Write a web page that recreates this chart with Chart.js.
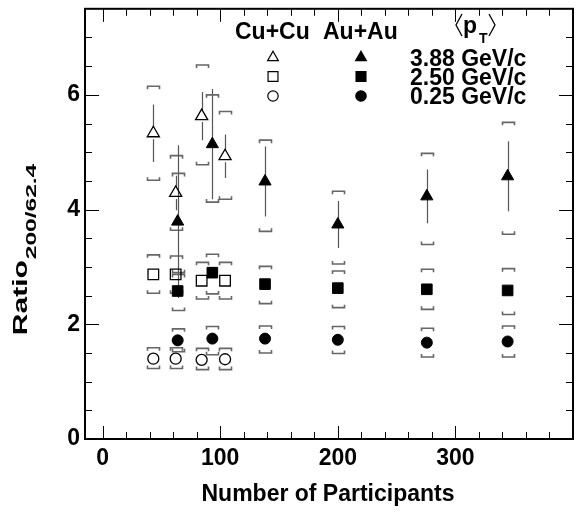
<!DOCTYPE html>
<html>
<head>
<meta charset="utf-8">
<script src="https://cdn.jsdelivr.net/npm/chart.js@4.4.1/dist/chart.umd.min.js"></script>
<style>
  html, body { margin: 0; padding: 0; background: #fff; }
  #wrap { width: 584px; height: 512px; }
</style>
</head>
<body>
<div id="wrap"><canvas id="chart" width="584" height="512"></canvas></div>
<script>
// Cu+Cu points (open markers)
const cuNpart = [43.1, 62.1, 84.2, 104.1];
const cuHigh = [5.33, 4.29, 5.63, 4.93];
const cuHighStat = [0.50, 0.30, 0.42, 0.38];
const cuHighSysTop = [6.15, 4.94, 6.52, 5.71];
const cuHighSysBot = [4.51, 3.64, 4.78, 4.18];
const cuMid = [2.87, 2.87, 2.76, 2.76];
const cuMidSysTop = [3.21, 3.19, 3.08, 3.08];
const cuMidSysBot = [2.54, 2.54, 2.44, 2.44];
const cuLow = [1.40, 1.40, 1.38, 1.39];
const cuLowSysTop = [1.59, 1.59, 1.58, 1.58];
const cuLowSysBot = [1.23, 1.23, 1.21, 1.21];

// Au+Au points (filled markers)
const auNpart = [63.8, 93.3, 138.1, 200.0, 275.7, 344.4];
const auHigh = [3.79, 5.14, 4.49, 3.74, 4.23, 4.58];
const auHighStat = [1.33, 0.96, 0.61, 0.41, 0.47, 0.61];
const auHighSysTop = [4.63, 6.00, 5.21, 4.32, 4.98, 5.52];
const auHighSysBot = [2.90, 4.13, 3.62, 3.05, 3.39, 3.57];
const auMid = [2.58, 2.90, 2.70, 2.63, 2.61, 2.59];
const auMidSysTop = [2.87, 3.22, 3.01, 2.93, 2.96, 2.97];
const auMidSysBot = [2.24, 2.53, 2.36, 2.29, 2.26, 2.17];
const auLow = [1.72, 1.75, 1.75, 1.73, 1.68, 1.70];
const auLowSysTop = [1.92, 1.96, 1.97, 1.96, 1.93, 1.97];
const auLowSysBot = [1.52, 1.47, 1.50, 1.49, 1.43, 1.43];

// axes
const xTicks = [0, 100, 200, 300];
const yTicks = [0, 2, 4, 6];
const ptLabels = ['3.88 GeV/c', '2.50 GeV/c', '0.25 GeV/c'];

const FONT = "'Liberation Sans', Arial, Helvetica, sans-serif";
const styles = { triangle: 7, rect: 7.5, circle: 5.5 };

const toPoints = (xs, ys) => xs.map((x, i) => ({ x, y: ys[i] }));

const makeSet = (xs, ys, style, open, stat, top, bot) => ({
  data: toPoints(xs, ys),
  pointStyle: style,
  pointRadius: styles[style],
  pointBorderWidth: open ? 1.3 : 1,
  pointBorderColor: '#000',
  pointBackgroundColor: open ? 'rgba(0,0,0,0)' : '#000',
  showLine: false,
  stat: stat,
  sysTop: top,
  sysBot: bot,
  open: open
});

const datasets = [
  makeSet(cuNpart, cuHigh, 'triangle', true, cuHighStat, cuHighSysTop, cuHighSysBot),
  makeSet(cuNpart, cuMid, 'rect', true, null, cuMidSysTop, cuMidSysBot),
  makeSet(cuNpart, cuLow, 'circle', true, null, cuLowSysTop, cuLowSysBot),
  makeSet(auNpart, auHigh, 'triangle', false, auHighStat, auHighSysTop, auHighSysBot),
  makeSet(auNpart, auMid, 'rect', false, null, auMidSysTop, auMidSysBot),
  makeSet(auNpart, auLow, 'circle', false, null, auLowSysTop, auLowSysBot)
];

// stat error bars and systematic brackets
const errorBars = {
  id: 'errorBars',
  beforeDatasetsDraw(chart) {
    const { ctx, scales: { x, y } } = chart;
    ctx.save();
    chart.data.datasets.forEach(ds => {
      ds.data.forEach((p, i) => {
        const px = Math.round(x.getPixelForValue(p.x)) + 0.5;
        const py = y.getPixelForValue(p.y);
        if (ds.stat) {
          const gap = ds.open ? 6 : 0;
          const yt = y.getPixelForValue(p.y + ds.stat[i]);
          const yb = y.getPixelForValue(p.y - ds.stat[i]);
          ctx.strokeStyle = '#555';
          ctx.lineWidth = 1.2;
          ctx.beginPath();
          ctx.moveTo(px, yt);
          ctx.lineTo(px, py - gap);
          ctx.moveTo(px, py + gap);
          ctx.lineTo(px, yb);
          ctx.stroke();
        }
        const yt = y.getPixelForValue(ds.sysTop[i]);
        const yb = y.getPixelForValue(ds.sysBot[i]);
        ctx.strokeStyle = '#666';
        ctx.lineWidth = 1.6;
        ctx.beginPath();
        ctx.moveTo(px - 6, yt + 3);
        ctx.lineTo(px - 6, yt);
        ctx.lineTo(px + 6, yt);
        ctx.lineTo(px + 6, yt + 3);
        ctx.moveTo(px - 6, yb - 3);
        ctx.lineTo(px - 6, yb);
        ctx.lineTo(px + 6, yb);
        ctx.lineTo(px + 6, yb - 3);
        ctx.stroke();
      });
    });
    ctx.restore();
  }
};

// ROOT style frame with inward ticks on all sides
const rootFrame = {
  id: 'rootFrame',
  afterDatasetsDraw(chart) {
    const { ctx, chartArea: a, scales: { x, y } } = chart;
    ctx.save();
    ctx.strokeStyle = '#000';
    ctx.lineWidth = 1;
    ctx.beginPath();
    for (let v = 0; v <= 400; v += 20) {
      const px = Math.round(x.getPixelForValue(v)) + 0.5;
      if (px < a.left + 1 || px > a.right - 1) continue;
      const len = v % 100 === 0 ? 13 : 7;
      ctx.moveTo(px, a.bottom); ctx.lineTo(px, a.bottom - len);
      ctx.moveTo(px, a.top); ctx.lineTo(px, a.top + len);
    }
    for (let v = 0.5; v < 7.5; v += 0.5) {
      const py = Math.round(y.getPixelForValue(v)) + 0.5;
      const len = v % 2 === 0 ? 14 : 7;
      ctx.moveTo(a.left, py); ctx.lineTo(a.left + len, py);
      ctx.moveTo(a.right, py); ctx.lineTo(a.right - len, py);
    }
    ctx.stroke();
    ctx.lineWidth = 2;
    ctx.strokeRect(a.left, a.top, a.right - a.left, a.bottom - a.top);
    ctx.restore();
  }
};

// legend block and axis titles
const texts = {
  id: 'texts',
  afterDraw(chart) {
    const { ctx } = chart;
    ctx.save();
    ctx.fillStyle = '#000';
    ctx.textBaseline = 'alphabetic';
    ctx.font = 'bold 23px ' + FONT;
    ctx.textAlign = 'left';
    ctx.fillText('Cu+Cu', 235, 39);
    ctx.fillText('Au+Au', 323, 39);

    // <p_T>
    ctx.strokeStyle = '#000';
    ctx.lineWidth = 1.3;
    ctx.beginPath();
    ctx.moveTo(462, 14); ctx.lineTo(456, 25); ctx.lineTo(462, 36);
    ctx.moveTo(489, 14); ctx.lineTo(495, 25); ctx.lineTo(489, 36);
    ctx.stroke();
    ctx.fillText('p', 463, 33);
    ctx.font = 'bold 14px ' + FONT;
    ctx.fillText('T', 479, 43);

    ctx.font = 'bold 23px ' + FONT;
    const rows = [57.5, 76.5, 96];
    const shapes = ['triangle', 'rect', 'circle'];
    const legSize = { triangle: 6.2, rect: 7, circle: 5.2 };
    rows.forEach((ry, i) => {
      ctx.lineWidth = 1.2;
      ctx.strokeStyle = '#000';
      ctx.fillStyle = 'rgba(0,0,0,0)';
      Chart.helpers.drawPoint(ctx, { pointStyle: shapes[i], radius: legSize[shapes[i]], rotation: 0, borderWidth: 1.2 }, 273, ry);
      ctx.fillStyle = '#000';
      Chart.helpers.drawPoint(ctx, { pointStyle: shapes[i], radius: legSize[shapes[i]], rotation: 0, borderWidth: 1 }, 361, ry);
      ctx.fillText(ptLabels[i], 410, ry + 8);
    });

    // x title
    ctx.textAlign = 'center';
    ctx.fillText('Number of Participants', 328, 501);

    // y title, rotated and stretched along its length like the original
    ctx.translate(27, 250);
    ctx.rotate(-Math.PI / 2);
    ctx.textAlign = 'left';
    ctx.font = 'bold 20px ' + FONT;
    const wMain = ctx.measureText('Ratio').width * 1.5;
    ctx.font = 'bold 14px ' + FONT;
    const wSub = ctx.measureText('200/62.4').width * 1.75;
    const start = -(wMain + wSub) / 2;
    ctx.save();
    ctx.translate(start, 0);
    ctx.scale(1.5, 1);
    ctx.font = 'bold 20px ' + FONT;
    ctx.fillText('Ratio', 0, 0);
    ctx.restore();
    ctx.save();
    ctx.translate(start + wMain + 1, 9);
    ctx.scale(1.75, 1);
    ctx.font = 'bold 14px ' + FONT;
    ctx.fillText('200/62.4', 0, 0);
    ctx.restore();
    ctx.restore();
  }
};

new Chart(document.getElementById('chart'), {
  type: 'scatter',
  data: { datasets },
  options: {
    responsive: false,
    animation: false,
    layout: { padding: { top: 6, right: 11, left: 0, bottom: 0 } },
    plugins: { legend: { display: false }, tooltip: { enabled: false } },
    scales: {
      x: {
        type: 'linear',
        min: -15,
        max: 400,
        afterBuildTicks: s => { s.ticks = xTicks.map(v => ({ value: v })); },
        afterFit: s => { s.height = 73; s.paddingLeft = 0; s.paddingRight = 0; },
        grid: { display: false, drawTicks: false },
        border: { display: false },
        ticks: { color: '#000', padding: 6, font: { family: FONT, size: 23, weight: 'bold' } }
      },
      y: {
        type: 'linear',
        min: 0,
        max: 7.5,
        afterBuildTicks: s => { s.ticks = yTicks.map(v => ({ value: v })); },
        afterFit: s => { s.width = 85; s.paddingTop = 0; s.paddingBottom = 0; },
        grid: { display: false, drawTicks: false },
        border: { display: false },
        ticks: { color: '#000', padding: 5, font: { family: FONT, size: 23, weight: 'bold' } }
      }
    }
  },
  plugins: [errorBars, rootFrame, texts]
});
</script>
</body>
</html>
